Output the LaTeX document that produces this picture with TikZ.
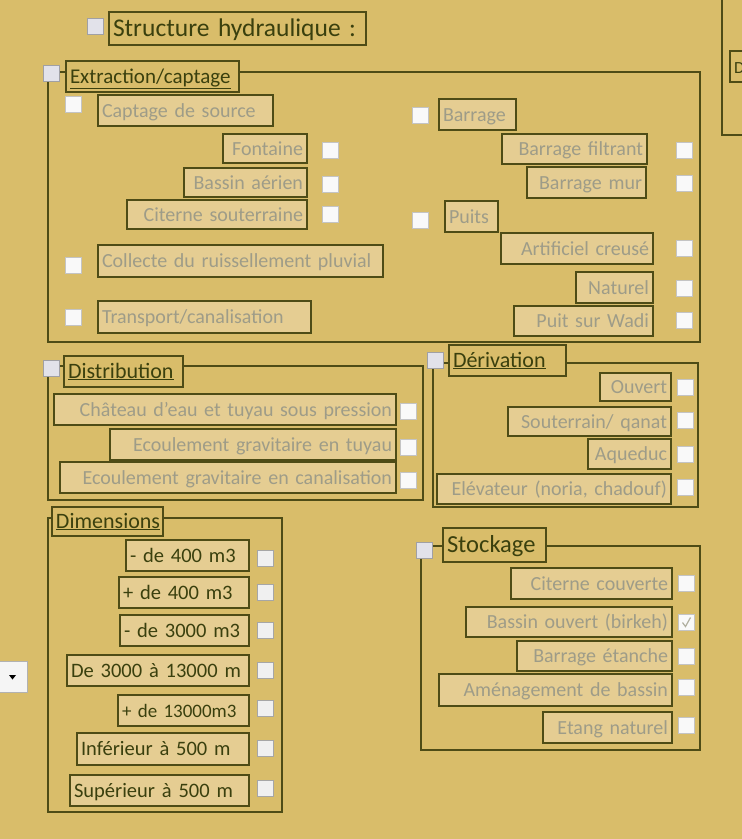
\documentclass[tikz,border=0pt]{standalone}
\usepackage{fontspec}
\setmainfont{Carlito}
\usepackage{tikz}
\usetikzlibrary{positioning}

\definecolor{bg}{RGB}{217,189,106}
\definecolor{lblfill}{RGB}{229,205,146}
\definecolor{olive}{RGB}{78,76,22}
\definecolor{greytxt}{RGB}{158,156,136}
\definecolor{darktxt}{RGB}{58,64,14}
\definecolor{cbline}{RGB}{196,196,196}
\definecolor{hcbline}{RGB}{160,160,164}
\definecolor{hcbfill}{RGB}{226,226,234}

% checkbox: name, left, top
\newcommand{\cbox}[4][cb]{\node[#1] (#2) at ({#3+8.5},{#4+8.5}) {};}
% label box: name, x1, y1, x2, y2, text
\newcommand{\lbox}[7][]{%
  \pgfmathsetmacro\lcx{(#3+#5)/2}\pgfmathsetmacro\lcy{(#4+#6)/2}%
  \pgfmathsetmacro\lw{#5-#3}\pgfmathsetmacro\lh{#6-#4}\pgfmathsetmacro\ltw{#5-#3-8}%
  \node[lbl,#1,minimum width=\lw pt,minimum height=\lh pt,text width=\ltw pt] (#2) at (\lcx,\lcy) {#7};}

\begin{document}
\begin{tikzpicture}[x=1pt,y=-1pt]
	\tikzstyle{every node} = [rectangle, inner sep=0pt, font=\fontsize{20}{23}\selectfont]
	\tikzstyle{lbl}   = [draw=olive, line width=1.3pt, fill=lblfill, text=greytxt, align=right, inner xsep=4pt, text height=15pt, text depth=2pt]
	\tikzstyle{head}  = [fill=bg, text=darktxt, align=left, font=\fontsize{22}{25}\selectfont]
	\tikzstyle{dim}   = [text=darktxt, align=left, font=\fontsize{20.5}{23}\selectfont]
	\tikzstyle{frame} = [draw=olive, line width=1.2pt]
	\tikzstyle{cb}    = [draw=cbline, fill=white!95!gray, line width=1pt, minimum size=16pt]
	\tikzstyle{hcb}   = [draw=hcbline, fill=hcbfill, line width=1.2pt, minimum size=16pt]
	\tikzstyle{dcb}   = [draw=gray!70, fill=gray!12, line width=1pt, minimum size=16pt]
	\fill[bg] (0,0) rectangle (742,839);
	\useasboundingbox (0,0) rectangle (742,839);

	\draw[frame] (48,72) rectangle (700,342);
	\draw[frame] (48,366) rectangle (423,500);
	\draw[frame] (433,363) rectangle (698,507);
	\draw[frame] (48,518) rectangle (282,812);
	\draw[frame] (421,546) rectangle (700,750);
	\draw[frame] (722,0) -- (722,135) -- (745,135);
	\lbox[head, inner xsep=2pt, font=\fontsize{17}{20}\selectfont]{dside}{730}{51}{760}{82}{D}

	\cbox[hcb]{cb-struct}{87}{18}
	\lbox[head, font=\fontsize{25.5}{29}\selectfont, text height=19pt, text depth=4pt]{struct}{109}{12}{366}{45}{Structure hydraulique~:}

	\cbox[hcb]{cb-extr}{43}{65}
	\lbox[head, font=\fontsize{21}{24}\selectfont]{extr}{66}{61}{239}{92}{\underline{Extraction/captage}}
	\cbox{cb-capt}{65}{96}
	\lbox[align=left]{capt}{98}{95}{273}{126}{Captage de source}
	\lbox{font}{223}{134}{307}{163}{Fontaine}
	\cbox{cb-font}{322}{142}
	\lbox{bass}{184}{168}{307}{197}{Bassin aérien}
	\cbox{cb-bass}{322}{176}
	\lbox{cit}{127}{200}{307}{229}{Citerne souterraine}
	\cbox{cb-cit}{322}{206}
	\cbox{cb-coll}{65}{257}
	\lbox[align=left]{coll}{98}{245}{383}{277}{Collecte du ruissellement pluvial}
	\cbox{cb-trans}{65}{309}
	\lbox[align=left]{trans}{98}{301}{311}{333}{Transport/canalisation}
	\cbox{cb-barr}{412}{107}
	\lbox[align=left]{barr}{439}{99}{516}{130}{Barrage}
	\lbox{filt}{502}{134}{647}{164}{Barrage filtrant}
	\cbox{cb-filt}{676}{142}
	\lbox{mur}{527}{167}{646}{198}{Barrage mur}
	\cbox{cb-mur}{676}{175}
	\cbox{cb-puits}{412}{212}
	\lbox[align=left]{puits}{445}{201}{498}{232}{Puits}
	\lbox{artif}{501}{233}{653}{264}{Artificiel creusé}
	\cbox{cb-artif}{676}{240}
	\lbox{nat}{576}{272}{653}{303}{Naturel}
	\cbox{cb-nat}{676}{280}
	\lbox{wadi}{514}{306}{653}{336}{Puit sur Wadi}
	\cbox{cb-wadi}{676}{312}

	\cbox[hcb]{cb-distr}{43}{360}
	\lbox[head]{distr}{64}{356}{183}{387}{\underline{Distribution}}
	\lbox{chat}{54}{394}{396}{425}{Château d'eau et tuyau sous pression}
	\cbox{cb-chat}{400}{403}
	\lbox{tuy}{110}{429}{396}{460}{Ecoulement gravitaire en tuyau}
	\cbox{cb-tuy}{400}{439}
	\lbox{can}{60}{462}{396}{493}{Ecoulement gravitaire en canalisation}
	\cbox{cb-can}{400}{472}

	\cbox[hcb]{cb-deriv}{427}{352}
	\lbox[head]{deriv}{449}{345}{566}{376}{\underline{Dérivation}}
	\lbox{ouv}{600}{373}{671}{401}{Ouvert}
	\cbox{cb-ouv}{677}{379}
	\lbox{qanat}{508}{407}{671}{436}{Souterrain/ qanat}
	\cbox{cb-qanat}{677}{412}
	\lbox{aqu}{588}{439}{671}{469}{Aqueduc}
	\cbox{cb-aqu}{677}{446}
	\lbox{elev}{437}{474}{671}{504}{Elévateur (noria, chadouf)}
	\cbox{cb-elev}{677}{479}

	\lbox[head]{dimen}{52}{507}{163}{536}{\underline{Dimensions}}
	\lbox[dim]{d1}{126}{540}{249}{571}{-~de~400~m3}
	\cbox[dcb]{cb-d1}{257}{550}
	\lbox[dim]{d2}{119}{577}{249}{608}{+~de~400~m3}
	\cbox[dcb]{cb-d2}{257}{584}
	\lbox[dim]{d3}{120}{615}{249}{646}{-~de~3000~m3}
	\cbox[dcb]{cb-d3}{257}{622}
	\lbox[dim]{d4}{67}{655}{249}{686}{De~3000~à~13000~m}
	\cbox[dcb]{cb-d4}{257}{662}
	\lbox[dim, font=\fontsize{19}{22}\selectfont, inner xsep=2pt]{d5}{118}{695}{249}{726}{+~de~13000m3}
	\cbox[dcb]{cb-d5}{257}{700}
	\lbox[dim]{d6}{77}{733}{249}{765}{Inférieur~à~500~m}
	\cbox[dcb]{cb-d6}{257}{740}
	\lbox[dim]{d7}{70}{775}{249}{806}{Supérieur~à~500~m}
	\cbox[dcb]{cb-d7}{257}{780}

	\node[draw=gray!60, line width=1pt, fill=gray!8, minimum width=30pt, minimum height=31pt] (drop) at (12,677) {};
	\fill (drop.center) ++(-3,-2) -- ++(7,0) -- ++(-3.5,4.5) -- cycle;

	\cbox[hcb]{cb-stock}{416}{542}
	\lbox[head, font=\fontsize{24.5}{28}\selectfont, text height=18pt, text depth=4pt]{stock}{443}{528}{546}{562}{Stockage}
	\lbox{citc}{511}{568}{672}{599}{Citerne couverte}
	\cbox{cb-citc}{678}{575}
	\lbox{birk}{466}{607}{672}{637}{Bassin ouvert (birkeh)}
	\cbox{cb-birk}{678}{614}
	\draw[greytxt!80, line width=1.2pt] (cb-birk.center) ++(-4,0) -- ++(3,4) -- ++(5,-9);
	\lbox{etan}{517}{641}{672}{671}{Barrage étanche}
	\cbox{cb-etan}{678}{648}
	\lbox{amen}{439}{674}{672}{706}{Aménagement de bassin}
	\cbox{cb-amen}{678}{679}
	\lbox{etang}{543}{712}{672}{743}{Etang naturel}
	\cbox{cb-etang}{678}{717}
\end{tikzpicture}
\end{document}
